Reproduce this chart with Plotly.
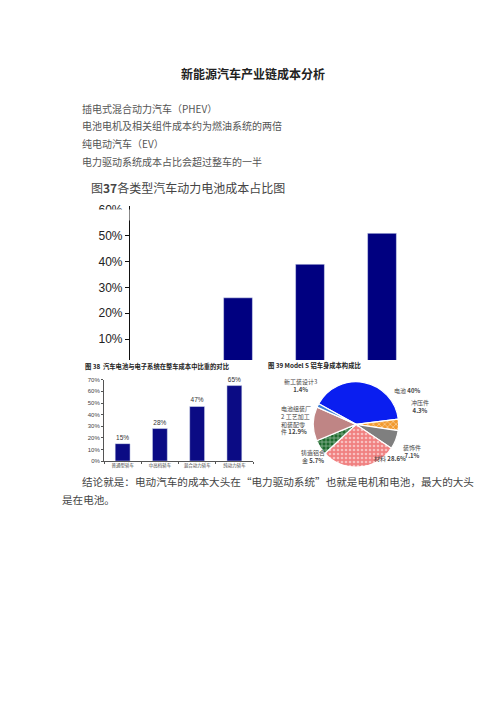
import plotly.graph_objects as go

W, H = 500, 707

# page text
page_title = "<b>新能源汽车产业链成本分析</b>"
bullets = ["插电式混合动力汽车（PHEV）", "电池电机及相关组件成本约为燃油系统的两倍",
           "纯电动汽车（EV）", "电力驱动系统成本占比会超过整车的一半"]
fig_title = "图<b>37</b>各类型汽车动力电池成本占比图"
conclusion = ["结论就是：电动汽车的成本大头在“电力驱动系统”也就是电机和电池，最大的大头",
              "是在电池。"]

# main chart (fig 37) - first bar hidden under the lower figures
main_cats = ["A", "B", "C", "D"]
main_vals = [None, 26, 39, 51]
main_ticks = [10, 20, 30, 40, 50, 60]

# fig 38
sub_title1 = "<b>图 38  汽车电池与电子系统在整车成本中比重的对比</b>"
car_types = ["普通型轿车", "中高档轿车", "混合动力轿车", "纯动力轿车"]
car_share = [15, 28, 47, 65]

# fig 39
sub_title2 = "<b>图 39 Model S 铝车身成本构成比</b>"
parts = ["电池", "冲压件", "装饰件", "材料", "铸造铝合金", "电池组装厂工艺加工和装配零件", "新工装设计"]
part_share = [40, 4.3, 7.1, 28.6, 5.7, 12.9, 1.4]
part_colors = ["#0a1ef0", "#f29a2e", "#7f7f7f", "#f08080", "#1e6b2e", "#bf8585", "#3d7fd6"]
part_shapes = ["", "x", "", ".", "+", "", ""]


def px(x):
    return x / W


def py(y):
    return 1 - y / H


fig = go.Figure()

fig.add_trace(go.Bar(x=main_cats, y=main_vals, marker_color="#000080", width=0.4,
                     xaxis="x", yaxis="y", showlegend=False))

fig.add_trace(go.Bar(x=car_types, y=car_share, marker_color="#0b0b84", width=0.4,
                     text=[f"{v}%" for v in car_share], textposition="outside",
                     textfont=dict(size=6.5, color="#333", family="Arial"),
                     cliponaxis=False, xaxis="x2", yaxis="y2", showlegend=False))

fig.add_trace(go.Pie(labels=parts, values=part_share, sort=False, direction="clockwise",
                     rotation=-61, textinfo="none", hoverinfo="label+percent",
                     marker=dict(colors=part_colors, line=dict(color="white", width=1.2),
                                 pattern=dict(shape=part_shapes, fillmode="overlay",
                                              fgcolor="white", size=4, solidity=0.35)),
                     domain=dict(x=[px(313), px(399)], y=[py(468), py(382)]),
                     showlegend=False))

fig.update_layout(
    width=W, height=H, margin=dict(l=0, r=0, t=0, b=0),
    paper_bgcolor="white", plot_bgcolor="white", bargap=0.6,
    font=dict(family="Noto Sans CJK SC", color="#333"),
    xaxis=dict(domain=[px(130), px(418)], range=[-0.5, 3.5], visible=False),
    yaxis=dict(domain=[py(360), py(205)], range=[1.9, 61.5], tickvals=main_ticks,
               ticktext=[f"{v}%" for v in main_ticks], ticks="outside", ticklen=4,
               tickcolor="#111", showline=True, linecolor="#111", linewidth=1.2,
               showgrid=False, zeroline=False,
               tickfont=dict(family="Arial", size=12, color="#222")),
    xaxis2=dict(domain=[px(104), px(253)], range=[-0.5, 3.5], anchor="y2",
                showline=True, linecolor="#555", ticks="outside", tickson="boundaries",
                ticklen=2, tickcolor="#555", showgrid=False, tickangle=0,
                tickfont=dict(size=4.5, color="#444")),
    yaxis2=dict(domain=[py(462), py(380)], range=[0, 70], dtick=10, ticksuffix="%",
                anchor="x2", showline=True, linecolor="#555", ticks="outside",
                ticklen=2, tickcolor="#555", showgrid=False, zeroline=False,
                tickfont=dict(family="Arial", size=6, color="#444")),
)

ann = [dict(text=page_title, x=px(253), y=py(71), xanchor="center", font=dict(size=12, color="#222"))]
for i, t in enumerate(bullets):
    ann.append(dict(text=t, x=px(80), y=py(106 + 18 * i), xanchor="left",
                    font=dict(size=10, color="#555")))
ann.append(dict(text=fig_title, x=px(89), y=py(186), xanchor="left",
                font=dict(size=12, color="#444")))
ann.append(dict(text=sub_title1, x=px(83), y=py(367), xanchor="left",
                font=dict(size=6.3, color="#222")))
ann.append(dict(text=sub_title2, x=px(266), y=py(366), xanchor="left",
                font=dict(size=6.3, color="#222")))
ann.append(dict(text=conclusion[0], x=px(80), y=py(483), xanchor="left",
                font=dict(size=10.6, color="#444")))
ann.append(dict(text=conclusion[1], x=px(60), y=py(501), xanchor="left",
                font=dict(size=10.6, color="#444")))
# white strip that crops the top of the main chart (cuts the 60% label in half)
ann.append(dict(text=" ", x=px(82), y=py(207.5), xanchor="left", yanchor="top",
                width=46, height=10, bgcolor="white", borderpad=0, font=dict(size=4)))

# pie labels
lab = dict(size=6, color="#444")
ann.append(dict(text=f"{parts[0]} <b>{part_share[0]:g}%</b>", x=px(392), y=py(391), xanchor="left", font=lab))
ann.append(dict(text=f"{parts[1]}<br><b>{part_share[1]:g}%</b>", x=px(420), y=py(407), xanchor="center", font=lab))
ann.append(dict(text=f"{parts[2]}<br><b>{part_share[2]:g}%</b>", x=px(412), y=py(452), xanchor="center", font=lab))
ann.append(dict(text=f"{parts[3]} <b>{part_share[3]:g}%</b>", x=px(372), y=py(459), xanchor="left", font=lab))
ann.append(dict(text=f"铸造铝合<br>金 <b>{part_share[4]:g}%</b>", x=px(313), y=py(457), xanchor="center", font=lab))
ann.append(dict(text=f"电池组装厂<br>2 工艺加工<br>和装配零<br>件 <b>{part_share[5]:g}%</b>", x=px(279), y=py(421),
                xanchor="left", align="left", font=lab))
ann.append(dict(text=f"新工装设计3<br><b>{part_share[6]:g}%</b>", x=px(300), y=py(386), xanchor="center", font=lab))
for a in ann:
    a.setdefault("xref", "paper")
    a.setdefault("yref", "paper")
    a.setdefault("yanchor", "middle")
    a.setdefault("showarrow", False)
fig.update_layout(annotations=ann)

shapes = [
    dict(type="line", x0=px(60), x1=px(455), y0=py(167), y1=py(167), line=dict(color="#999", width=1)),
    dict(type="line", x0=px(80), x1=px(260), y0=py(373), y1=py(373), line=dict(color="#aaa", width=1.5)),
    dict(type="line", x0=px(263), x1=px(425), y0=py(373), y1=py(373), line=dict(color="#aaa", width=1.5)),
    # leader lines
    dict(type="line", x0=px(422), x1=px(404), y0=py(402), y1=py(408), line=dict(color="#555", width=0.6)),
    dict(type="line", x0=px(408), x1=px(395), y0=py(446), y1=py(438), line=dict(color="#555", width=0.6)),
    dict(type="line", x0=px(304), x1=px(317), y0=py(421), y1=py(421), line=dict(color="#555", width=0.6)),
    dict(type="line", x0=px(312), x1=px(318), y0=py(388), y1=py(403), line=dict(color="#555", width=0.6)),
]
fig.update_layout(shapes=shapes)

fig.write_html("out.html", config={"displayModeBar": False},
               post_script="document.body.style.margin='0';")
